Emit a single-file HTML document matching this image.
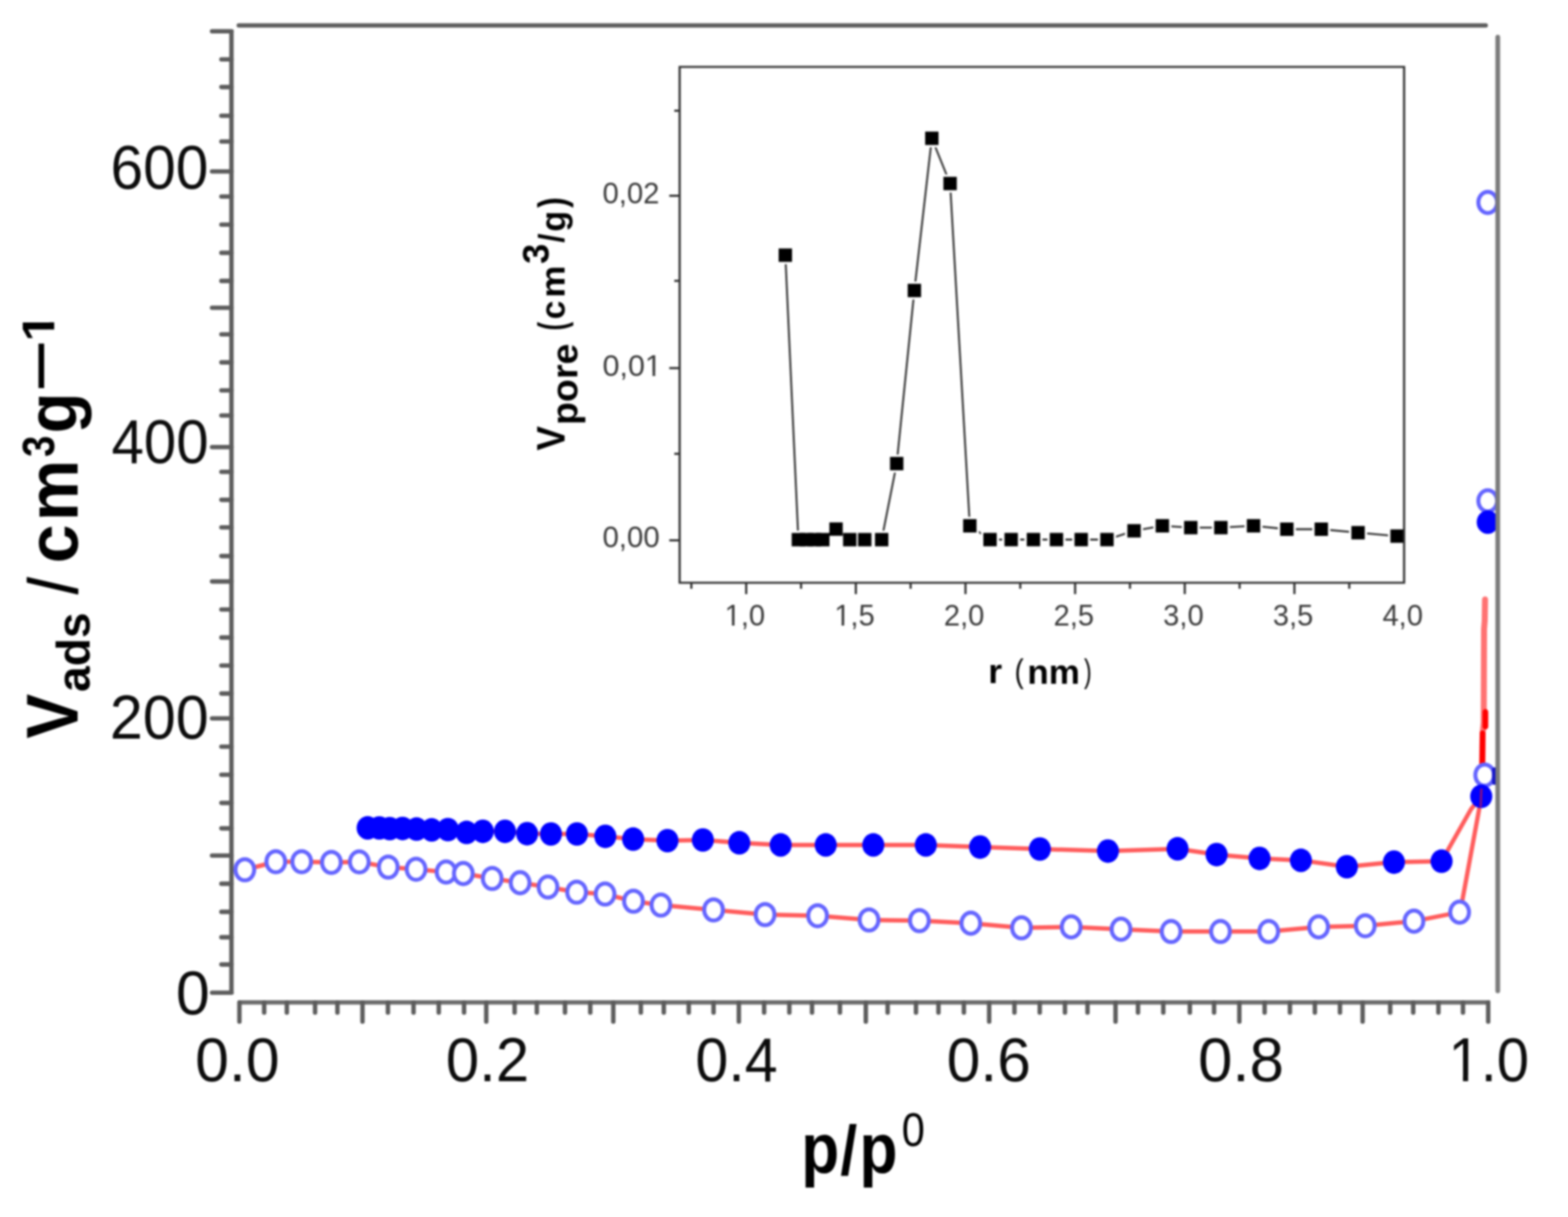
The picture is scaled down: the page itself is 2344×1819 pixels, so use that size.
<!DOCTYPE html>
<html><head><meta charset="utf-8"><title>Adsorption isotherm with pore size distribution inset</title>
<style>
html,body{margin:0;padding:0;background:#fff;}
body{width:2344px;height:1819px;overflow:hidden;}
svg{display:block;}
text{font-family:"Liberation Sans",Arial,sans-serif;font-kerning:none;}
</style></head>
<body>
<svg width="2344" height="1819" viewBox="0 0 2344 1819">
<defs><clipPath id="c1_0" clipPathUnits="userSpaceOnUse"><rect x="-5000" y="-5000" width="10000" height="4991.90"/><rect x="23.09" y="-5000" width="8.19" height="10000"/><rect x="51.17" y="-5000" width="25.56" height="10000"/><rect x="76.73" y="-5000" width="51.17" height="10000"/><rect x="127.89" y="-5000" width="5000" height="10000"/><rect x="-5000" y="-5000" width="5000" height="10000"/></clipPath><clipPath id="c1_1" clipPathUnits="userSpaceOnUse"><rect x="-5000" y="-5000" width="10000" height="4995.54"/><rect x="0.00" y="-5000" width="24.19" height="10000"/><rect x="24.19" y="-5000" width="12.09" height="10000"/><rect x="36.28" y="-5000" width="24.19" height="10000"/><rect x="71.39" y="-5000" width="3.87" height="10000"/><rect x="84.66" y="-5000" width="5000" height="10000"/><rect x="-5000" y="-5000" width="5000" height="10000"/></clipPath><clipPath id="c1_2" clipPathUnits="userSpaceOnUse"><rect x="-5000" y="-5000" width="10000" height="4995.54"/><rect x="10.92" y="-5000" width="3.87" height="10000"/><rect x="24.19" y="-5000" width="12.09" height="10000"/><rect x="36.28" y="-5000" width="24.19" height="10000"/><rect x="60.47" y="-5000" width="5000" height="10000"/><rect x="-5000" y="-5000" width="5000" height="10000"/></clipPath><clipPath id="c1_3" clipPathUnits="userSpaceOnUse"><rect x="-5000" y="-5000" width="10000" height="4995.54"/><rect x="10.92" y="-5000" width="3.87" height="10000"/><rect x="24.19" y="-5000" width="12.09" height="10000"/><rect x="36.28" y="-5000" width="24.19" height="10000"/><rect x="60.47" y="-5000" width="5000" height="10000"/><rect x="-5000" y="-5000" width="5000" height="10000"/></clipPath><clipPath id="c1_4" clipPathUnits="userSpaceOnUse"><rect x="-5000" y="-5000" width="10000" height="4991.74"/><rect x="16.12" y="-5000" width="9.55" height="10000"/><rect x="38.48" y="-5000" width="5000" height="10000"/><rect x="-5000" y="-5000" width="5000" height="10000"/></clipPath></defs>
<rect width="2344" height="1819" fill="#fff"/>
<g style="filter:blur(1.35px)">
<path d="M346.0,44.5 V1486" stroke="#5c5c5c" stroke-width="6.6" fill="none"/>
<path d="M317,46.8 H346.0" stroke="#5c5c5c" stroke-width="6.6" stroke-linecap="round"/>
<path d="M331,88.8 H346.0" stroke="#5c5c5c" stroke-width="6.6" stroke-linecap="round"/>
<path d="M331,130.1 H346.0" stroke="#5c5c5c" stroke-width="6.6" stroke-linecap="round"/>
<path d="M331,173.0 H346.0" stroke="#5c5c5c" stroke-width="6.6" stroke-linecap="round"/>
<path d="M331,211.5 H346.0" stroke="#5c5c5c" stroke-width="6.6" stroke-linecap="round"/>
<path d="M317,256.3 H346.0" stroke="#5c5c5c" stroke-width="6.6" stroke-linecap="round"/>
<path d="M331,293.7 H346.0" stroke="#5c5c5c" stroke-width="6.6" stroke-linecap="round"/>
<path d="M331,335.8 H346.0" stroke="#5c5c5c" stroke-width="6.6" stroke-linecap="round"/>
<path d="M331,377.9 H346.0" stroke="#5c5c5c" stroke-width="6.6" stroke-linecap="round"/>
<path d="M331,419.9 H346.0" stroke="#5c5c5c" stroke-width="6.6" stroke-linecap="round"/>
<path d="M317,460.0 H346.0" stroke="#5c5c5c" stroke-width="6.6" stroke-linecap="round"/>
<path d="M331,499.7 H346.0" stroke="#5c5c5c" stroke-width="6.6" stroke-linecap="round"/>
<path d="M331,541.6 H346.0" stroke="#5c5c5c" stroke-width="6.6" stroke-linecap="round"/>
<path d="M331,583.5 H346.0" stroke="#5c5c5c" stroke-width="6.6" stroke-linecap="round"/>
<path d="M331,621.0 H346.0" stroke="#5c5c5c" stroke-width="6.6" stroke-linecap="round"/>
<path d="M317,668.2 H346.0" stroke="#5c5c5c" stroke-width="6.6" stroke-linecap="round"/>
<path d="M331,705.2 H346.0" stroke="#5c5c5c" stroke-width="6.6" stroke-linecap="round"/>
<path d="M331,747.1 H346.0" stroke="#5c5c5c" stroke-width="6.6" stroke-linecap="round"/>
<path d="M331,788.2 H346.0" stroke="#5c5c5c" stroke-width="6.6" stroke-linecap="round"/>
<path d="M331,831.1 H346.0" stroke="#5c5c5c" stroke-width="6.6" stroke-linecap="round"/>
<path d="M317,869.1 H346.0" stroke="#5c5c5c" stroke-width="6.6" stroke-linecap="round"/>
<path d="M331,911.0 H346.0" stroke="#5c5c5c" stroke-width="6.6" stroke-linecap="round"/>
<path d="M331,952.9 H346.0" stroke="#5c5c5c" stroke-width="6.6" stroke-linecap="round"/>
<path d="M331,994.8 H346.0" stroke="#5c5c5c" stroke-width="6.6" stroke-linecap="round"/>
<path d="M331,1036.6 H346.0" stroke="#5c5c5c" stroke-width="6.6" stroke-linecap="round"/>
<path d="M317,1073.8 H346.0" stroke="#5c5c5c" stroke-width="6.6" stroke-linecap="round"/>
<path d="M331,1116.0 H346.0" stroke="#5c5c5c" stroke-width="6.6" stroke-linecap="round"/>
<path d="M331,1158.0 H346.0" stroke="#5c5c5c" stroke-width="6.6" stroke-linecap="round"/>
<path d="M331,1200.1 H346.0" stroke="#5c5c5c" stroke-width="6.6" stroke-linecap="round"/>
<path d="M331,1238.1 H346.0" stroke="#5c5c5c" stroke-width="6.6" stroke-linecap="round"/>
<path d="M317,1278.8 H346.0" stroke="#5c5c5c" stroke-width="6.6" stroke-linecap="round"/>
<path d="M331,1320.9 H346.0" stroke="#5c5c5c" stroke-width="6.6" stroke-linecap="round"/>
<path d="M331,1362.9 H346.0" stroke="#5c5c5c" stroke-width="6.6" stroke-linecap="round"/>
<path d="M331,1400.9 H346.0" stroke="#5c5c5c" stroke-width="6.6" stroke-linecap="round"/>
<path d="M331,1441.6 H346.0" stroke="#5c5c5c" stroke-width="6.6" stroke-linecap="round"/>
<path d="M317,1483.7 H346.0" stroke="#5c5c5c" stroke-width="6.6" stroke-linecap="round"/>
<path d="M356,1498.2 H2227.5" stroke="#6c6c6c" stroke-width="6.6" fill="none"/>
<path d="M357.9,1498.2 V1527" stroke="#5c5c5c" stroke-width="6.6" stroke-linecap="round"/>
<path d="M394.9,1498.2 V1513.5" stroke="#5c5c5c" stroke-width="6.6" stroke-linecap="round"/>
<path d="M428.8,1498.2 V1513.5" stroke="#5c5c5c" stroke-width="6.6" stroke-linecap="round"/>
<path d="M471.0,1498.2 V1513.5" stroke="#5c5c5c" stroke-width="6.6" stroke-linecap="round"/>
<path d="M504.4,1498.2 V1513.5" stroke="#5c5c5c" stroke-width="6.6" stroke-linecap="round"/>
<path d="M541.9,1498.2 V1527" stroke="#5c5c5c" stroke-width="6.6" stroke-linecap="round"/>
<path d="M579.9,1498.2 V1513.5" stroke="#5c5c5c" stroke-width="6.6" stroke-linecap="round"/>
<path d="M618.2,1498.2 V1513.5" stroke="#5c5c5c" stroke-width="6.6" stroke-linecap="round"/>
<path d="M655.9,1498.2 V1513.5" stroke="#5c5c5c" stroke-width="6.6" stroke-linecap="round"/>
<path d="M693.7,1498.2 V1513.5" stroke="#5c5c5c" stroke-width="6.6" stroke-linecap="round"/>
<path d="M726.9,1498.2 V1527" stroke="#5c5c5c" stroke-width="6.6" stroke-linecap="round"/>
<path d="M769.3,1498.2 V1513.5" stroke="#5c5c5c" stroke-width="6.6" stroke-linecap="round"/>
<path d="M802.5,1498.2 V1513.5" stroke="#5c5c5c" stroke-width="6.6" stroke-linecap="round"/>
<path d="M844.6,1498.2 V1513.5" stroke="#5c5c5c" stroke-width="6.6" stroke-linecap="round"/>
<path d="M882.4,1498.2 V1513.5" stroke="#5c5c5c" stroke-width="6.6" stroke-linecap="round"/>
<path d="M916.8,1498.2 V1527" stroke="#5c5c5c" stroke-width="6.6" stroke-linecap="round"/>
<path d="M958.0,1498.2 V1513.5" stroke="#5c5c5c" stroke-width="6.6" stroke-linecap="round"/>
<path d="M992.3,1498.2 V1513.5" stroke="#5c5c5c" stroke-width="6.6" stroke-linecap="round"/>
<path d="M1029.6,1498.2 V1513.5" stroke="#5c5c5c" stroke-width="6.6" stroke-linecap="round"/>
<path d="M1066.7,1498.2 V1513.5" stroke="#5c5c5c" stroke-width="6.6" stroke-linecap="round"/>
<path d="M1104.5,1498.2 V1527" stroke="#5c5c5c" stroke-width="6.6" stroke-linecap="round"/>
<path d="M1142.3,1498.2 V1513.5" stroke="#5c5c5c" stroke-width="6.6" stroke-linecap="round"/>
<path d="M1180.0,1498.2 V1513.5" stroke="#5c5c5c" stroke-width="6.6" stroke-linecap="round"/>
<path d="M1213.9,1498.2 V1513.5" stroke="#5c5c5c" stroke-width="6.6" stroke-linecap="round"/>
<path d="M1255.6,1498.2 V1513.5" stroke="#5c5c5c" stroke-width="6.6" stroke-linecap="round"/>
<path d="M1294.3,1498.2 V1527" stroke="#5c5c5c" stroke-width="6.6" stroke-linecap="round"/>
<path d="M1326.9,1498.2 V1513.5" stroke="#5c5c5c" stroke-width="6.6" stroke-linecap="round"/>
<path d="M1369.3,1498.2 V1513.5" stroke="#5c5c5c" stroke-width="6.6" stroke-linecap="round"/>
<path d="M1402.9,1498.2 V1513.5" stroke="#5c5c5c" stroke-width="6.6" stroke-linecap="round"/>
<path d="M1440.9,1498.2 V1513.5" stroke="#5c5c5c" stroke-width="6.6" stroke-linecap="round"/>
<path d="M1478.7,1498.2 V1527" stroke="#5c5c5c" stroke-width="6.6" stroke-linecap="round"/>
<path d="M1516.5,1498.2 V1513.5" stroke="#5c5c5c" stroke-width="6.6" stroke-linecap="round"/>
<path d="M1554.3,1498.2 V1513.5" stroke="#5c5c5c" stroke-width="6.6" stroke-linecap="round"/>
<path d="M1592.0,1498.2 V1513.5" stroke="#5c5c5c" stroke-width="6.6" stroke-linecap="round"/>
<path d="M1625.7,1498.2 V1513.5" stroke="#5c5c5c" stroke-width="6.6" stroke-linecap="round"/>
<path d="M1667.6,1498.2 V1527" stroke="#5c5c5c" stroke-width="6.6" stroke-linecap="round"/>
<path d="M1701.2,1498.2 V1513.5" stroke="#5c5c5c" stroke-width="6.6" stroke-linecap="round"/>
<path d="M1739.0,1498.2 V1513.5" stroke="#5c5c5c" stroke-width="6.6" stroke-linecap="round"/>
<path d="M1778.7,1498.2 V1513.5" stroke="#5c5c5c" stroke-width="6.6" stroke-linecap="round"/>
<path d="M1814.9,1498.2 V1513.5" stroke="#5c5c5c" stroke-width="6.6" stroke-linecap="round"/>
<path d="M1852.7,1498.2 V1527" stroke="#5c5c5c" stroke-width="6.6" stroke-linecap="round"/>
<path d="M1890.5,1498.2 V1513.5" stroke="#5c5c5c" stroke-width="6.6" stroke-linecap="round"/>
<path d="M1928.3,1498.2 V1513.5" stroke="#5c5c5c" stroke-width="6.6" stroke-linecap="round"/>
<path d="M1965.6,1498.2 V1513.5" stroke="#5c5c5c" stroke-width="6.6" stroke-linecap="round"/>
<path d="M2003.1,1498.2 V1513.5" stroke="#5c5c5c" stroke-width="6.6" stroke-linecap="round"/>
<path d="M2037.0,1498.2 V1527" stroke="#5c5c5c" stroke-width="6.6" stroke-linecap="round"/>
<path d="M2078.2,1498.2 V1513.5" stroke="#5c5c5c" stroke-width="6.6" stroke-linecap="round"/>
<path d="M2112.6,1498.2 V1513.5" stroke="#5c5c5c" stroke-width="6.6" stroke-linecap="round"/>
<path d="M2150.3,1498.2 V1513.5" stroke="#5c5c5c" stroke-width="6.6" stroke-linecap="round"/>
<path d="M2187.0,1498.2 V1513.5" stroke="#5c5c5c" stroke-width="6.6" stroke-linecap="round"/>
<path d="M2224.7,1498.2 V1527" stroke="#5c5c5c" stroke-width="6.6" stroke-linecap="round"/>
<path d="M357,38.0 H2221" stroke="#5e5e5e" stroke-width="6.6" stroke-linecap="round"/>
<text transform="translate(165.35,281.50) scale(0.9530,1)" font-size="92" font-weight="normal" fill="#0c0c0c">600</text>
<text transform="translate(166.70,692.40) scale(0.9459,1)" font-size="92" font-weight="normal" fill="#0c0c0c">400</text>
<text transform="translate(164.25,1103.80) scale(0.9623,1)" font-size="92" font-weight="normal" fill="#0c0c0c">200</text>
<text transform="translate(262.95,1515.60) scale(0.9891,1)" font-size="92" font-weight="normal" fill="#0c0c0c">0</text>
<text transform="translate(291.86,1616.20) scale(0.9859,1)" font-size="92" font-weight="normal" fill="#0c0c0c">0.0</text>
<text transform="translate(666.50,1616.20) scale(0.9735,1)" font-size="92" font-weight="normal" fill="#0c0c0c">0.2</text>
<text transform="translate(1039.54,1616.20) scale(0.9621,1)" font-size="92" font-weight="normal" fill="#0c0c0c">0.4</text>
<text transform="translate(1415.27,1616.20) scale(0.9829,1)" font-size="92" font-weight="normal" fill="#0c0c0c">0.6</text>
<text transform="translate(1790.99,1616.20) scale(1.0033,1)" font-size="92" font-weight="normal" fill="#0c0c0c">0.8</text>
<text transform="translate(2165.16,1616.20) scale(0.9440,1)" font-size="92" font-weight="normal" fill="#0c0c0c" clip-path="url(#c1_0)">1.0</text>
<polyline points="549.6,1237.4 567.0,1237.5 582.6,1238.5 601.8,1238.3 622.7,1239.2 645.3,1240.4 669.6,1240.0 697.5,1244.2 721.8,1242.6 754.9,1242.6 788.0,1246.1 823.6,1246.5 862.5,1246.5 904.9,1250.1 946.5,1254.2 997.8,1256.5 1050.7,1255.5 1105.2,1259.7 1167.0,1262.9 1234.4,1262.9 1305.5,1262.9 1384.0,1262.9 1465.1,1266.1 1554.5,1269.0 1656.2,1272.1 1760.3,1268.7 1818.7,1277.3 1882.9,1283.1 1944.7,1285.9 2013.4,1295.5 2083.8,1288.6 2155.0,1287.2 2199.0,1209.5 2214.3,1190.2" fill="none" stroke="#ff5c5c" stroke-width="6.5" stroke-linejoin="round"/>
<polyline points="366.0,1300.0 412.3,1288.0 451.0,1288.0 495.4,1289.0 537.1,1288.3 580.4,1296.0 622.0,1299.2 666.9,1303.4 692.6,1305.6 735.8,1313.0 777.5,1319.4 819.2,1325.8 862.0,1333.5 904.5,1336.3 947.0,1347.0 988.0,1352.8 1066.7,1360.0 1143.7,1367.0 1222.2,1368.7 1299.1,1375.0 1374.4,1376.0 1451.3,1379.9 1527.0,1386.8 1601.3,1385.4 1675.8,1388.9 1750.7,1392.3 1824.5,1392.3 1896.6,1392.3 1971.2,1385.4 2040.9,1383.7 2113.7,1376.9 2182.0,1363.4 2186.0,1346.0 2210.0,1215.8 2214.3,1190.2" fill="none" stroke="#ff5c5c" stroke-width="6.5" stroke-linejoin="round"/>
<polyline points="2216,1143 2216.5,1095 2218,1080 2218.5,940 2219.5,928 2220,896" fill="none" stroke="#ff7272" stroke-width="9" stroke-linecap="round" stroke-linejoin="round"/>
<polyline points="2215.8,1142 2216.3,1096" fill="none" stroke="#ff0000" stroke-width="8.5" stroke-linecap="round"/>
<polyline points="2220.5,1086 2220.5,1064" fill="none" stroke="#ff0000" stroke-width="8.5" stroke-linecap="round"/>
<ellipse cx="366.0" cy="1300.0" rx="14" ry="15.8" fill="#fff" stroke="#6464ff" stroke-width="6"/>
<ellipse cx="412.3" cy="1288.0" rx="14" ry="15.8" fill="#fff" stroke="#6464ff" stroke-width="6"/>
<ellipse cx="451.0" cy="1288.0" rx="14" ry="15.8" fill="#fff" stroke="#6464ff" stroke-width="6"/>
<ellipse cx="495.4" cy="1289.0" rx="14" ry="15.8" fill="#fff" stroke="#6464ff" stroke-width="6"/>
<ellipse cx="537.1" cy="1288.3" rx="14" ry="15.8" fill="#fff" stroke="#6464ff" stroke-width="6"/>
<ellipse cx="580.4" cy="1296.0" rx="14" ry="15.8" fill="#fff" stroke="#6464ff" stroke-width="6"/>
<ellipse cx="622.0" cy="1299.2" rx="14" ry="15.8" fill="#fff" stroke="#6464ff" stroke-width="6"/>
<ellipse cx="666.9" cy="1303.4" rx="14" ry="15.8" fill="#fff" stroke="#6464ff" stroke-width="6"/>
<ellipse cx="692.6" cy="1305.6" rx="14" ry="15.8" fill="#fff" stroke="#6464ff" stroke-width="6"/>
<ellipse cx="735.8" cy="1313.0" rx="14" ry="15.8" fill="#fff" stroke="#6464ff" stroke-width="6"/>
<ellipse cx="777.5" cy="1319.4" rx="14" ry="15.8" fill="#fff" stroke="#6464ff" stroke-width="6"/>
<ellipse cx="819.2" cy="1325.8" rx="14" ry="15.8" fill="#fff" stroke="#6464ff" stroke-width="6"/>
<ellipse cx="862.0" cy="1333.5" rx="14" ry="15.8" fill="#fff" stroke="#6464ff" stroke-width="6"/>
<ellipse cx="904.5" cy="1336.3" rx="14" ry="15.8" fill="#fff" stroke="#6464ff" stroke-width="6"/>
<ellipse cx="947.0" cy="1347.0" rx="14" ry="15.8" fill="#fff" stroke="#6464ff" stroke-width="6"/>
<ellipse cx="988.0" cy="1352.8" rx="14" ry="15.8" fill="#fff" stroke="#6464ff" stroke-width="6"/>
<ellipse cx="1066.7" cy="1360.0" rx="14" ry="15.8" fill="#fff" stroke="#6464ff" stroke-width="6"/>
<ellipse cx="1143.7" cy="1367.0" rx="14" ry="15.8" fill="#fff" stroke="#6464ff" stroke-width="6"/>
<ellipse cx="1222.2" cy="1368.7" rx="14" ry="15.8" fill="#fff" stroke="#6464ff" stroke-width="6"/>
<ellipse cx="1299.1" cy="1375.0" rx="14" ry="15.8" fill="#fff" stroke="#6464ff" stroke-width="6"/>
<ellipse cx="1374.4" cy="1376.0" rx="14" ry="15.8" fill="#fff" stroke="#6464ff" stroke-width="6"/>
<ellipse cx="1451.3" cy="1379.9" rx="14" ry="15.8" fill="#fff" stroke="#6464ff" stroke-width="6"/>
<ellipse cx="1527.0" cy="1386.8" rx="14" ry="15.8" fill="#fff" stroke="#6464ff" stroke-width="6"/>
<ellipse cx="1601.3" cy="1385.4" rx="14" ry="15.8" fill="#fff" stroke="#6464ff" stroke-width="6"/>
<ellipse cx="1675.8" cy="1388.9" rx="14" ry="15.8" fill="#fff" stroke="#6464ff" stroke-width="6"/>
<ellipse cx="1750.7" cy="1392.3" rx="14" ry="15.8" fill="#fff" stroke="#6464ff" stroke-width="6"/>
<ellipse cx="1824.5" cy="1392.3" rx="14" ry="15.8" fill="#fff" stroke="#6464ff" stroke-width="6"/>
<ellipse cx="1896.6" cy="1392.3" rx="14" ry="15.8" fill="#fff" stroke="#6464ff" stroke-width="6"/>
<ellipse cx="1971.2" cy="1385.4" rx="14" ry="15.8" fill="#fff" stroke="#6464ff" stroke-width="6"/>
<ellipse cx="2040.9" cy="1383.7" rx="14" ry="15.8" fill="#fff" stroke="#6464ff" stroke-width="6"/>
<ellipse cx="2113.7" cy="1376.9" rx="14" ry="15.8" fill="#fff" stroke="#6464ff" stroke-width="6"/>
<ellipse cx="2182.0" cy="1363.4" rx="14" ry="15.8" fill="#fff" stroke="#6464ff" stroke-width="6"/>
<ellipse cx="2219.5" cy="1158.5" rx="14" ry="15.8" fill="#fff" stroke="#6464ff" stroke-width="6"/>
<ellipse cx="2224.0" cy="748.6" rx="14" ry="15.8" fill="#fff" stroke="#6464ff" stroke-width="6"/>
<ellipse cx="2224.0" cy="302.6" rx="14" ry="15.8" fill="#fff" stroke="#6464ff" stroke-width="6"/>
<ellipse cx="549.6" cy="1237.4" rx="16.5" ry="17.6" fill="#0000ff"/>
<ellipse cx="567.0" cy="1237.5" rx="16.5" ry="17.6" fill="#0000ff"/>
<ellipse cx="582.6" cy="1238.5" rx="16.5" ry="17.6" fill="#0000ff"/>
<ellipse cx="601.8" cy="1238.3" rx="16.5" ry="17.6" fill="#0000ff"/>
<ellipse cx="622.7" cy="1239.2" rx="16.5" ry="17.6" fill="#0000ff"/>
<ellipse cx="645.3" cy="1240.4" rx="16.5" ry="17.6" fill="#0000ff"/>
<ellipse cx="669.6" cy="1240.0" rx="16.5" ry="17.6" fill="#0000ff"/>
<ellipse cx="697.5" cy="1244.2" rx="16.5" ry="17.6" fill="#0000ff"/>
<ellipse cx="721.8" cy="1242.6" rx="16.5" ry="17.6" fill="#0000ff"/>
<ellipse cx="754.9" cy="1242.6" rx="16.5" ry="17.6" fill="#0000ff"/>
<ellipse cx="788.0" cy="1246.1" rx="16.5" ry="17.6" fill="#0000ff"/>
<ellipse cx="823.6" cy="1246.5" rx="16.5" ry="17.6" fill="#0000ff"/>
<ellipse cx="862.5" cy="1246.5" rx="16.5" ry="17.6" fill="#0000ff"/>
<ellipse cx="904.9" cy="1250.1" rx="16.5" ry="17.6" fill="#0000ff"/>
<ellipse cx="946.5" cy="1254.2" rx="16.5" ry="17.6" fill="#0000ff"/>
<ellipse cx="997.8" cy="1256.5" rx="16.5" ry="17.6" fill="#0000ff"/>
<ellipse cx="1050.7" cy="1255.5" rx="16.5" ry="17.6" fill="#0000ff"/>
<ellipse cx="1105.2" cy="1259.7" rx="16.5" ry="17.6" fill="#0000ff"/>
<ellipse cx="1167.0" cy="1262.9" rx="16.5" ry="17.6" fill="#0000ff"/>
<ellipse cx="1234.4" cy="1262.9" rx="16.5" ry="17.6" fill="#0000ff"/>
<ellipse cx="1305.5" cy="1262.9" rx="16.5" ry="17.6" fill="#0000ff"/>
<ellipse cx="1384.0" cy="1262.9" rx="16.5" ry="17.6" fill="#0000ff"/>
<ellipse cx="1465.1" cy="1266.1" rx="16.5" ry="17.6" fill="#0000ff"/>
<ellipse cx="1554.5" cy="1269.0" rx="16.5" ry="17.6" fill="#0000ff"/>
<ellipse cx="1656.2" cy="1272.1" rx="16.5" ry="17.6" fill="#0000ff"/>
<ellipse cx="1760.3" cy="1268.7" rx="16.5" ry="17.6" fill="#0000ff"/>
<ellipse cx="1818.7" cy="1277.3" rx="16.5" ry="17.6" fill="#0000ff"/>
<ellipse cx="1882.9" cy="1283.1" rx="16.5" ry="17.6" fill="#0000ff"/>
<ellipse cx="1944.7" cy="1285.9" rx="16.5" ry="17.6" fill="#0000ff"/>
<ellipse cx="2013.4" cy="1295.5" rx="16.5" ry="17.6" fill="#0000ff"/>
<ellipse cx="2083.8" cy="1288.6" rx="16.5" ry="17.6" fill="#0000ff"/>
<ellipse cx="2155.0" cy="1287.2" rx="16.5" ry="17.6" fill="#0000ff"/>
<ellipse cx="2214.3" cy="1190.2" rx="16.5" ry="17.6" fill="#0000ff"/>
<ellipse cx="2224.0" cy="780.4" rx="16.5" ry="17.6" fill="#0000ff"/>
<path d="M2214.5,1180 L2213.5,1205" stroke="#a0106a" stroke-width="3.5" stroke-linecap="round" opacity="0.85"/>
<rect x="2230.5" y="1147" width="8" height="26" rx="3" fill="#1414c8"/>
<path d="M2239.0,55.5 V1481" stroke="#7a7a7a" stroke-width="7" stroke-linecap="round"/>
<polyline points="1174.0,381.4 1193.5,806.6 1205.5,806.6 1217.5,806.6 1230.0,806.6 1249.8,790.8 1270.3,806.6 1292.7,806.6 1318.0,806.6 1340.5,692.9 1366.9,434.2 1393.0,206.7 1420.3,274.3 1449.8,785.9 1480.0,806.5 1511.6,806.5 1544.9,806.5 1579.3,806.5 1616.3,806.5 1654.8,806.5 1695.3,793.4 1737.6,785.9 1780.1,788.6 1825.1,788.6 1873.9,785.9 1923.7,791.0 1975.2,791.0 2030.2,796.2 2088.5,801.3" fill="none" stroke="#2e2e2e" stroke-width="2.8"/>
<rect x="1160.5" y="367.9" width="27" height="27" fill="#fff"/>
<rect x="1180.0" y="793.1" width="27" height="27" fill="#fff"/>
<rect x="1192.0" y="793.1" width="27" height="27" fill="#fff"/>
<rect x="1204.0" y="793.1" width="27" height="27" fill="#fff"/>
<rect x="1216.5" y="793.1" width="27" height="27" fill="#fff"/>
<rect x="1236.3" y="777.3" width="27" height="27" fill="#fff"/>
<rect x="1256.8" y="793.1" width="27" height="27" fill="#fff"/>
<rect x="1279.2" y="793.1" width="27" height="27" fill="#fff"/>
<rect x="1304.5" y="793.1" width="27" height="27" fill="#fff"/>
<rect x="1327.0" y="679.4" width="27" height="27" fill="#fff"/>
<rect x="1353.4" y="420.7" width="27" height="27" fill="#fff"/>
<rect x="1379.5" y="193.2" width="27" height="27" fill="#fff"/>
<rect x="1406.8" y="260.8" width="27" height="27" fill="#fff"/>
<rect x="1436.3" y="772.4" width="27" height="27" fill="#fff"/>
<rect x="1466.5" y="793.0" width="27" height="27" fill="#fff"/>
<rect x="1498.1" y="793.0" width="27" height="27" fill="#fff"/>
<rect x="1531.4" y="793.0" width="27" height="27" fill="#fff"/>
<rect x="1565.8" y="793.0" width="27" height="27" fill="#fff"/>
<rect x="1602.8" y="793.0" width="27" height="27" fill="#fff"/>
<rect x="1641.3" y="793.0" width="27" height="27" fill="#fff"/>
<rect x="1681.8" y="779.9" width="27" height="27" fill="#fff"/>
<rect x="1724.1" y="772.4" width="27" height="27" fill="#fff"/>
<rect x="1766.6" y="775.1" width="27" height="27" fill="#fff"/>
<rect x="1811.6" y="775.1" width="27" height="27" fill="#fff"/>
<rect x="1860.4" y="772.4" width="27" height="27" fill="#fff"/>
<rect x="1910.2" y="777.5" width="27" height="27" fill="#fff"/>
<rect x="1961.7" y="777.5" width="27" height="27" fill="#fff"/>
<rect x="2016.7" y="782.7" width="27" height="27" fill="#fff"/>
<rect x="2075.0" y="787.8" width="27" height="27" fill="#fff"/>
<rect x="1164.0" y="371.4" width="20" height="20" fill="#000"/>
<rect x="1183.5" y="796.6" width="20" height="20" fill="#000"/>
<rect x="1195.5" y="796.6" width="20" height="20" fill="#000"/>
<rect x="1207.5" y="796.6" width="20" height="20" fill="#000"/>
<rect x="1220.0" y="796.6" width="20" height="20" fill="#000"/>
<rect x="1239.8" y="780.8" width="20" height="20" fill="#000"/>
<rect x="1260.3" y="796.6" width="20" height="20" fill="#000"/>
<rect x="1282.7" y="796.6" width="20" height="20" fill="#000"/>
<rect x="1308.0" y="796.6" width="20" height="20" fill="#000"/>
<rect x="1330.5" y="682.9" width="20" height="20" fill="#000"/>
<rect x="1356.9" y="424.2" width="20" height="20" fill="#000"/>
<rect x="1383.0" y="196.7" width="20" height="20" fill="#000"/>
<rect x="1410.3" y="264.3" width="20" height="20" fill="#000"/>
<rect x="1439.8" y="775.9" width="20" height="20" fill="#000"/>
<rect x="1470.0" y="796.5" width="20" height="20" fill="#000"/>
<rect x="1501.6" y="796.5" width="20" height="20" fill="#000"/>
<rect x="1534.9" y="796.5" width="20" height="20" fill="#000"/>
<rect x="1569.3" y="796.5" width="20" height="20" fill="#000"/>
<rect x="1606.3" y="796.5" width="20" height="20" fill="#000"/>
<rect x="1644.8" y="796.5" width="20" height="20" fill="#000"/>
<rect x="1685.3" y="783.4" width="20" height="20" fill="#000"/>
<rect x="1727.6" y="775.9" width="20" height="20" fill="#000"/>
<rect x="1770.1" y="778.6" width="20" height="20" fill="#000"/>
<rect x="1815.1" y="778.6" width="20" height="20" fill="#000"/>
<rect x="1863.9" y="775.9" width="20" height="20" fill="#000"/>
<rect x="1913.7" y="781.0" width="20" height="20" fill="#000"/>
<rect x="1965.2" y="781.0" width="20" height="20" fill="#000"/>
<rect x="2020.2" y="786.2" width="20" height="20" fill="#000"/>
<rect x="2078.5" y="791.3" width="20" height="20" fill="#000"/>
<path d="M1016.0,871.0 V100.0 H2099.0 V871.0 Z" fill="none" stroke="#2e2e2e" stroke-width="3.2"/>
<path d="M1000.5,807.6 H1016.0" stroke="#2e2e2e" stroke-width="3.2"/>
<path d="M1000.5,550.2 H1016.0" stroke="#2e2e2e" stroke-width="3.2"/>
<path d="M1000.5,292.6 H1016.0" stroke="#2e2e2e" stroke-width="3.2"/>
<path d="M1008,678.3 H1016.0" stroke="#2e2e2e" stroke-width="3.2"/>
<path d="M1008,419.8 H1016.0" stroke="#2e2e2e" stroke-width="3.2"/>
<path d="M1008,165.5 H1016.0" stroke="#2e2e2e" stroke-width="3.2"/>
<path d="M1033.5,871.0 V880" stroke="#2e2e2e" stroke-width="3.2"/>
<path d="M1115.5,871.0 V888" stroke="#2e2e2e" stroke-width="3.2"/>
<path d="M1197.5,871.0 V880" stroke="#2e2e2e" stroke-width="3.2"/>
<path d="M1279.4,871.0 V888" stroke="#2e2e2e" stroke-width="3.2"/>
<path d="M1361.3,871.0 V880" stroke="#2e2e2e" stroke-width="3.2"/>
<path d="M1443.3,871.0 V888" stroke="#2e2e2e" stroke-width="3.2"/>
<path d="M1525.2,871.0 V880" stroke="#2e2e2e" stroke-width="3.2"/>
<path d="M1607.2,871.0 V888" stroke="#2e2e2e" stroke-width="3.2"/>
<path d="M1689.2,871.0 V880" stroke="#2e2e2e" stroke-width="3.2"/>
<path d="M1771.1,871.0 V888" stroke="#2e2e2e" stroke-width="3.2"/>
<path d="M1853.1,871.0 V880" stroke="#2e2e2e" stroke-width="3.2"/>
<path d="M1935.0,871.0 V888" stroke="#2e2e2e" stroke-width="3.2"/>
<path d="M2017.0,871.0 V880" stroke="#2e2e2e" stroke-width="3.2"/>
<text transform="translate(900.80,304.20) scale(1.0028,1)" font-size="43.5" font-weight="normal" fill="#3a3a3a">0,02</text>
<text transform="translate(900.72,561.80) scale(1.0467,1)" font-size="43.5" font-weight="normal" fill="#3a3a3a" clip-path="url(#c1_1)">0,01</text>
<text transform="translate(900.69,818.40) scale(1.0090,1)" font-size="43.5" font-weight="normal" fill="#3a3a3a">0,00</text>
<text transform="translate(1083.26,934.50) scale(1.0000,1)" font-size="43.5" font-weight="normal" fill="#3a3a3a" clip-path="url(#c1_2)">1,0</text>
<text transform="translate(1247.16,934.50) scale(1.0000,1)" font-size="43.5" font-weight="normal" fill="#3a3a3a" clip-path="url(#c1_3)">1,5</text>
<text transform="translate(1411.06,934.50) scale(1.0000,1)" font-size="43.5" font-weight="normal" fill="#3a3a3a">2,0</text>
<text transform="translate(1574.96,934.50) scale(1.0000,1)" font-size="43.5" font-weight="normal" fill="#3a3a3a">2,5</text>
<text transform="translate(1738.86,934.50) scale(1.0000,1)" font-size="43.5" font-weight="normal" fill="#3a3a3a">3,0</text>
<text transform="translate(1902.76,934.50) scale(1.0000,1)" font-size="43.5" font-weight="normal" fill="#3a3a3a">3,5</text>
<text transform="translate(2066.66,934.50) scale(1.0000,1)" font-size="43.5" font-weight="normal" fill="#3a3a3a">4,0</text>
<text transform="rotate(-90) translate(-1104.09,116.20) scale(0.9113,1)" font-size="110.18" font-weight="bold" fill="#000">V</text>
<text transform="rotate(-90) translate(-1034.22,133.91) scale(0.9786,1)" font-size="70.54" font-weight="bold" fill="#000">ads</text>
<text transform="rotate(-90) translate(-887.60,115.21) scale(0.8551,1)" font-size="101.86" font-weight="normal" fill="#000" stroke="#000" stroke-width="2.2" stroke-linejoin="round">/</text>
<text transform="rotate(-90) translate(-842.08,116.14) scale(0.9675,1)" font-size="108.06" font-weight="bold" fill="#000">c</text>
<text transform="rotate(-90) translate(-778.91,115.50) scale(0.9667,1)" font-size="106.95" font-weight="bold" fill="#000">m</text>
<text transform="rotate(-90) translate(-683.12,80.63) scale(0.8370,1)" font-size="68.5" font-weight="bold" fill="#000">3</text>
<text transform="rotate(-90) translate(-647.82,115.02) scale(0.9467,1)" font-size="106.06" font-weight="bold" fill="#000">g</text>
<text transform="rotate(-90) translate(-580.00,84.90) scale(0.7824,1)" font-size="85" font-weight="bold" fill="#000">—</text>
<text transform="rotate(-90) translate(-510.45,81.40) scale(1.1162,1)" font-size="69.19" font-weight="bold" fill="#000" clip-path="url(#c1_4)">1</text>
<text transform="translate(1197.66,1753.20) scale(0.8780,1)" font-size="106.01" font-weight="bold" fill="#000">p</text>
<text transform="translate(1256.22,1754.63) scale(0.8749,1)" font-size="103.54" font-weight="bold" fill="#000">/</text>
<text transform="translate(1284.65,1753.20) scale(0.8798,1)" font-size="106.01" font-weight="bold" fill="#000">p</text>
<text transform="translate(1347.97,1712.91) scale(0.8833,1)" font-size="70.34" font-weight="normal" fill="#000">0</text>
<text transform="rotate(-90) translate(-673.38,844.10) scale(0.9247,1)" font-size="59.59" font-weight="bold" fill="#000">V</text>
<text transform="rotate(-90) translate(-635.20,863.01) scale(1.0235,1)" font-size="54.88" font-weight="bold" fill="#000">pore</text>
<text transform="rotate(-90) translate(-494.11,844.77) scale(0.6655,1)" font-size="57.5" font-weight="bold" fill="#000">(</text>
<text transform="rotate(-90) translate(-477.25,843.70) scale(0.9753,1)" font-size="51.29" font-weight="bold" fill="#000">c</text>
<text transform="rotate(-90) translate(-445.07,843.70) scale(1.0561,1)" font-size="51.25" font-weight="bold" fill="#000">m</text>
<text transform="rotate(-90) translate(-394.23,820.47) scale(0.9599,1)" font-size="55.96" font-weight="bold" fill="#000">3</text>
<text transform="rotate(-90) translate(-362.78,843.13) scale(0.9199,1)" font-size="53.45" font-weight="bold" fill="#000">/</text>
<text transform="rotate(-90) translate(-346.19,845.24) scale(0.9409,1)" font-size="54.1" font-weight="bold" fill="#000">g</text>
<text transform="rotate(-90) translate(-310.45,844.77) scale(0.8257,1)" font-size="57.5" font-weight="bold" fill="#000">)</text>
<text transform="translate(1477.17,1021.10) scale(1.0449,1)" font-size="51.25" font-weight="bold" fill="#000">r</text>
<text transform="translate(1516.87,1020.24) scale(0.8143,1)" font-size="50.02" font-weight="normal" fill="#000">(</text>
<text transform="translate(1535.75,1021.50) scale(1.0175,1)" font-size="51.43" font-weight="bold" fill="#000">nm</text>
<text transform="translate(1620.60,1020.24) scale(0.6862,1)" font-size="50.02" font-weight="normal" fill="#000">)</text>
</g>
</svg>
</body></html>
